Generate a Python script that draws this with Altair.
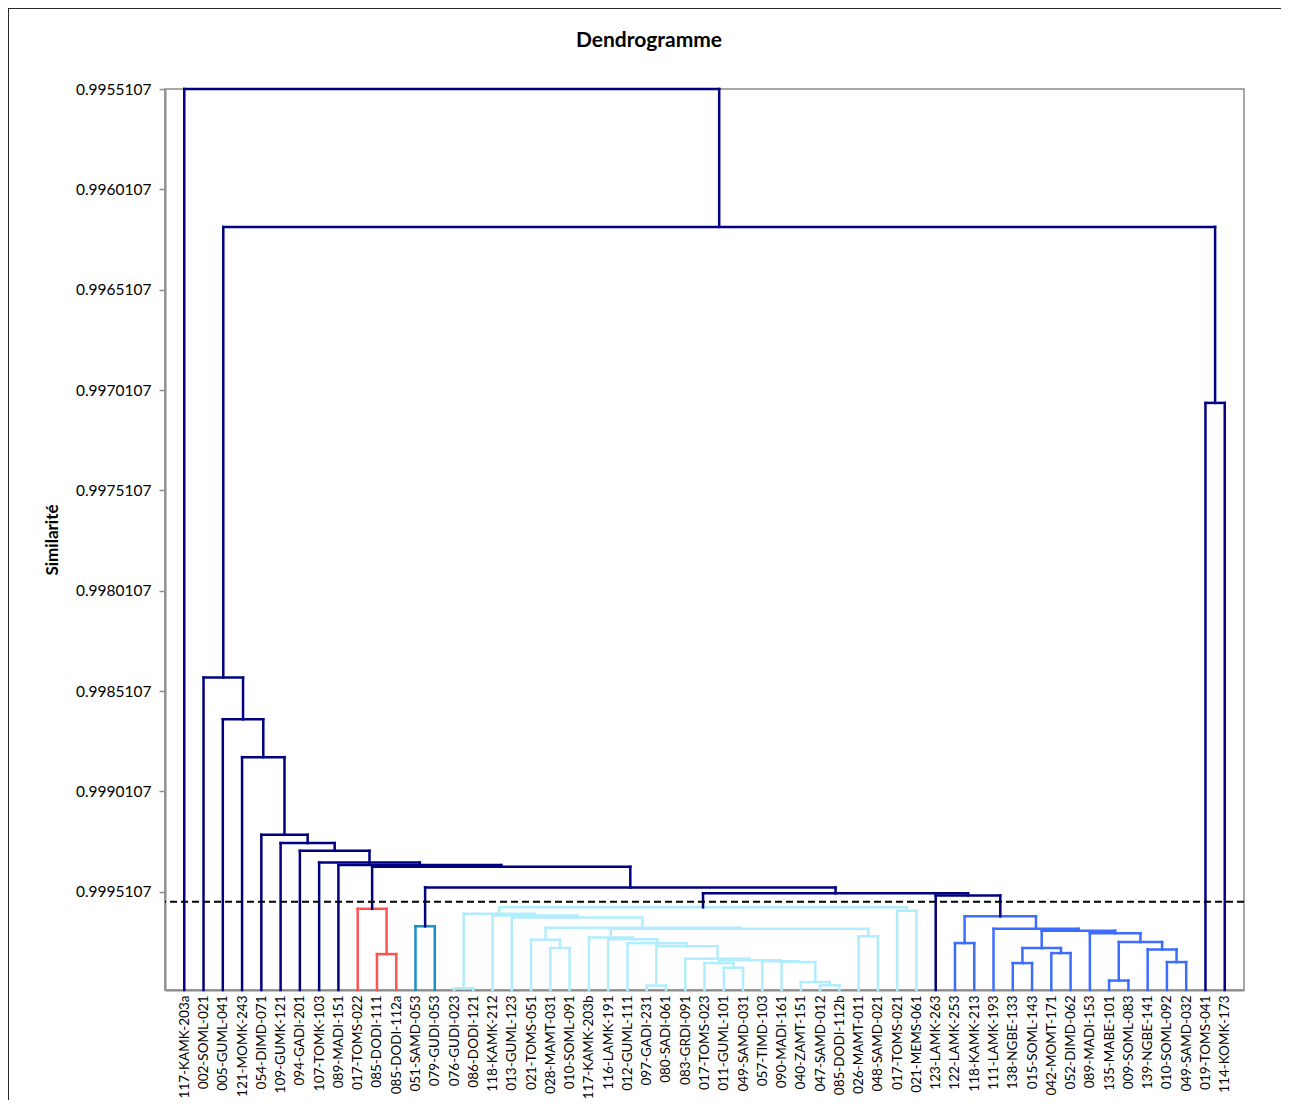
import altair as alt
import pandas as pd

# ---------------- data ----------------
leaf_names = [
    "117-KAMK-203a", "002-SOML-021", "005-GUML-041", "121-MOMK-243", "054-DIMD-071",
    "109-GUMK-121", "094-GADI-201", "107-TOMK-103", "089-MADI-151", "017-TOMS-022",
    "085-DODI-111", "085-DODI-112a", "051-SAMD-053", "079-GUDI-053", "076-GUDI-023",
    "086-DODI-121", "118-KAMK-212", "013-GUML-123", "021-TOMS-051", "028-MAMT-031",
    "010-SOML-091", "117-KAMK-203b", "116-LAMK-191", "012-GUML-111", "097-GADI-231",
    "080-SADI-061", "083-GRDI-091", "017-TOMS-023", "011-GUML-101", "049-SAMD-031",
    "057-TIMD-103", "090-MADI-161", "040-ZAMT-151", "047-SAMD-012", "085-DODI-112b",
    "026-MAMT-011", "048-SAMD-021", "017-TOMS-021", "021-MEMS-061", "123-LAMK-263",
    "122-LAMK-253", "118-KAMK-213", "111-LAMK-193", "138-NGBE-133", "015-SOML-143",
    "042-MOMT-171", "052-DIMD-062", "089-MADI-153", "135-MABE-101", "009-SOML-083",
    "139-NGBE-141", "010-SOML-092", "049-SAMD-032", "019-TOMS-041", "114-KOMK-173",
]

# merges: integers are leaf positions (1-based), strings are earlier merges
merge_id = [
    "a", "p2021", "g", "j", "p2930", "m", "p3435", "p33", "p32", "W", "Z", "Y", "k", "l",
    "i", "h", "p3637", "f", "e", "d", "b", "c", "p3839", "T",
    "q4142", "q4445", "q4647", "P1", "q4950", "q5253", "q51", "P2", "P3", "P4", "P5", "B",
    "r1112", "Red", "Teal",
    "N4", "N3", "N2", "N1", "N0", "M1", "M2", "M3", "M4", "M5", "M6", "M7", "R1", "M8", "Root",
]
merge_left = [
    15, 20, 19, 25, 29, 28, 34, 33, 32, 31, "m", 27, "j", 24,
    23, 22, 36, "h", "g", 18, 17, "a", 38, "c",
    41, 44, 46, "q4445", 49, 52, 51, "q4950", 48, "P1", 43, "q4142",
    11, 10, 13,
    40, "T", "Teal", "Red", 9, 8, 7, 6, 5, 4, 3, 2, 54, "M7", 1,
]
merge_right = [
    16, 21, "p2021", 26, 30, "p2930", 35, "p3435", "p33", "p32", "W", "Z", "Y", "k",
    "l", "i", 37, "p3637", "f", "e", "d", "b", 39, "p3839",
    42, 45, 47, "q4647", 50, 53, "q5253", "q51", "P2", "P3", "P4", "P5",
    12, "r1112", 14,
    "B", "N4", "N3", "N2", "N1", "N0", "M1", "M2", "M3", "M4", "M5", "M6", 55, "R1", "M8",
]
merge_sim = [
    0.9999914, 0.9997912, 0.9997498, 0.9999779, 0.9998893, 0.9998659, 0.9999764, 0.9999605,
    0.9998609, 0.9998569, 0.9998519, 0.9998444, 0.9997822, 0.9997673,
    0.9997473, 0.9997388, 0.9997324, 0.9996950, 0.9996900, 0.9996392, 0.9996292, 0.9996203,
    0.9996053, 0.9995879,
    0.9997663, 0.9998659, 0.9998161, 0.9997912, 0.9999530, 0.9998609, 0.9997982, 0.9997613,
    0.9997174, 0.9997050, 0.9996950, 0.9996327,
    0.9998210, 0.9995954, 0.9996825,
    0.9995291, 0.9995182, 0.9994893, 0.9993862, 0.9993777, 0.9993647, 0.9993065, 0.9992681,
    0.9992267, 0.9988397, 0.9986514, 0.9984432, 0.9970748, 0.9961981, 0.9955107,
]
merge_group = (["lightblue"] * 24 + ["blue"] * 12 + ["red"] * 2 + ["teal"] + ["top"] * 15)

cut_level = [0.9995605]
y_ticks = [0.9955107, 0.9960107, 0.9965107, 0.9970107, 0.9975107,
           0.9980107, 0.9985107, 0.9990107, 0.9995107]

group_names = ["top", "red", "teal", "lightblue", "blue"]
group_colors = ["#000080", "#FF5252", "#1792C4", "#B2EDFF", "#3C6DFF"]

# ---------------- build link segments ----------------
pos = {i + 1: float(i + 1) for i in range(len(leaf_names))}
hgt = {i + 1: 1.0 for i in range(len(leaf_names))}
rows = []
for nid, l, r, h, g in zip(merge_id, merge_left, merge_right, merge_sim, merge_group):
    xl, xr, hl, hr = pos[l], pos[r], hgt[l], hgt[r]
    rows.append(dict(x=xl, x2=xl, y=hl, y2=h, g=g))
    rows.append(dict(x=xl, x2=xr, y=h, y2=h, g=g))
    rows.append(dict(x=xr, x2=xr, y=hr, y2=h, g=g))
    pos[nid] = (xl + xr) / 2
    hgt[nid] = h
links_df = pd.DataFrame(rows)

FONT = "Lato"
label_expr = "[" + ",".join("'" + n + "'" for n in leaf_names) + "][datum.value - 1]"

x_scale = alt.Scale(domain=[0, len(leaf_names) + 1], nice=False, zero=False)
y_scale = alt.Scale(domain=[0.9955107, 1.0], reverse=True, nice=False, zero=False)

links = alt.Chart(links_df).mark_rule(strokeWidth=2.5, strokeCap="square").encode(
    x=alt.X("x:Q", scale=x_scale, title=None,
            axis=alt.Axis(values=list(range(1, len(leaf_names) + 1)), labelExpr=label_expr,
                          labelAngle=-90, labelAlign="right", labelBaseline="middle",
                          labelOverlap=False, labelBound=False, labelFlush=False,
                          ticks=False, labelPadding=5, labelFontSize=13.5, labelFont=FONT,
                          labelColor="#000000", grid=False)),
    x2="x2:Q",
    y=alt.Y("y:Q", scale=y_scale, title="Similarité",
            axis=alt.Axis(values=y_ticks, format=".7f", labelFontSize=15.5, labelFont=FONT,
                          labelColor="#000000", labelPadding=8, tickSize=6, grid=False,
                          labelOverlap=False, labelFlush=False,
                          titleFont=FONT, titleFontSize=17, titleFontWeight="bold",
                          titleColor="#000000", titlePadding=14)),
    y2="y2:Q",
    color=alt.Color("g:N", scale=alt.Scale(domain=group_names, range=group_colors), legend=None),
)

cut = alt.Chart(pd.DataFrame({"cut": cut_level})).mark_rule(
    color="#000000", strokeWidth=2, strokeDash=[7, 4]
).encode(y=alt.Y("cut:Q", scale=y_scale))

deco_df = pd.DataFrame({"k": [0]})
frame_left = alt.Chart(deco_df).mark_rule(color="#262626", strokeWidth=2).encode(
    x=alt.value(-157), y=alt.value(-81), y2=alt.value(1030))
frame_top = alt.Chart(deco_df).mark_rule(color="#262626", strokeWidth=2).encode(
    x=alt.value(-157), x2=alt.value(1130), y=alt.value(-81))
title = alt.Chart(deco_df).mark_text(
    text="Dendrogramme", font=FONT, fontSize=21, fontWeight="bold", color="#000000",
    align="center", baseline="middle"
).encode(x=alt.value(484), y=alt.value(-48))

chart = alt.layer(links, cut, frame_left, frame_top, title).properties(
    width=1079, height=901,
    autosize=alt.AutoSizeParams(type="none"),
    padding={"left": 157, "top": 81, "right": 37, "bottom": 110},
).configure_view(stroke="#8c8c8c", strokeWidth=1.5).configure_axis(
    domainColor="#8c8c8c", domainWidth=2, tickColor="#8c8c8c", tickWidth=1.5
)

chart.save("out.html", embed_options={"renderer": "svg", "actions": False})
